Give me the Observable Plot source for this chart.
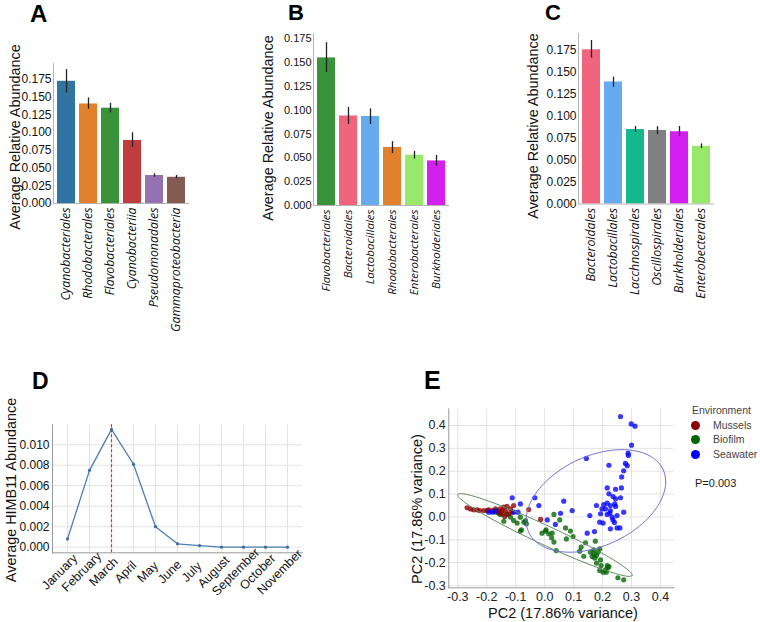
<!DOCTYPE html>
<html><head><meta charset="utf-8">
<script src="https://cdn.jsdelivr.net/npm/d3@7"></script>
<script src="https://cdn.jsdelivr.net/npm/@observablehq/plot@0.6"></script>
<style>
body{margin:0;background:#fff;}
#page{position:relative;width:760px;height:622px;overflow:hidden;background:#fff;font-family:"Liberation Sans",Arial,sans-serif;color:#111;}
.letter{position:absolute;font-weight:bold;line-height:1;color:#000;font-family:"Liberation Sans",Arial,sans-serif;}
.vlab{position:absolute;white-space:nowrap;line-height:1;transform:translate(-50%,-50%) rotate(-90deg);font-size:14.4px;color:#111;}
.hlab{position:absolute;white-space:nowrap;line-height:1;transform:translate(-50%,-50%);font-size:14.5px;color:#111;}
.leg{position:absolute;white-space:nowrap;line-height:1;font-size:10.5px;color:#444;}
.sw{position:absolute;width:9px;height:9px;border-radius:50%;}
</style></head><body><div id="page"></div>
<script>
// ---------- DATA ----------
const yTicksBar = [0, 0.025, 0.05, 0.075, 0.1, 0.125, 0.15, 0.175];

const catsA = ["Cyanobacteriales","Rhodobacterales","Flavobacteriales","Cyanobacteriia","Pseudomonadales","Gammaproteobacteria"];
const meanA = [0.1725, 0.1405, 0.1345, 0.0890, 0.0395, 0.0370];
const loA   = [0.156, 0.133, 0.128, 0.0795, 0.0370, 0.0350];
const hiA   = [0.189, 0.149, 0.1415, 0.0998, 0.0420, 0.0395];
const colA  = ["#3274a1","#e1812c","#3a923a","#c03d3e","#9372b2","#845b53"];

const catsB = ["Flavobacteriales","Bacteroidales","Lactobacillales","Rhodobacterales","Enterobacterales","Burkholderiales"];
const meanB = [0.155, 0.094, 0.0935, 0.061, 0.0528, 0.0468];
const loB   = [0.1395, 0.085, 0.085, 0.0545, 0.0487, 0.0412];
const hiB   = [0.171, 0.103, 0.1015, 0.0671, 0.0568, 0.0525];
const colB  = ["#3a923a","#f0647e","#66aaf0","#e1812c","#98e86c","#d320f0"];

const catsC = ["Bacteroidales","Lactobacillales","Lacchnospirales","Oscillospirales","Burkholderiales","Enterobecterales"];
const meanC = [0.175, 0.1385, 0.0845, 0.0835, 0.082, 0.0655];
const loC   = [0.1655, 0.1325, 0.0812, 0.0788, 0.0765, 0.0628];
const hiC   = [0.1856, 0.144, 0.088, 0.0878, 0.088, 0.0682];
const colC  = ["#f0647e","#66aaf0","#14b88c","#808080","#d320f0","#98e86c"];

const months = ["January","February","March","April","May","June","July","August","September","October","November"];
const himb   = [0.0008, 0.0075, 0.0115, 0.0081, 0.0020, 0.00033, 0.00016, 0, 0, 0, 0];
const yTicksD = [0, 0.002, 0.004, 0.006, 0.008, 0.010];
const peakMonth = ["March"];

const ticksE = [-0.3, -0.2, -0.1, 0, 0.1, 0.2, 0.3, 0.4];
const envNames = ["Mussels","Biofilm","Seawater"];
const envColors = ["#8b0000","#006400","#0000ff"];
const mussels = [[-0.268,0.040],[-0.256,0.035],[-0.245,0.031],[-0.233,0.031],[-0.224,0.028],[-0.210,0.028],[-0.199,0.028],[-0.193,0.031],[-0.181,0.028],[-0.164,0.028],[-0.158,0.021],[-0.153,0.035],[-0.147,0.014],[-0.141,0.043],[-0.138,0.002],[-0.135,0.025],[-0.130,0.046],[-0.124,0.014],[-0.118,0.035],[-0.112,0.021],[-0.107,0.050],[-0.055,0.032],[-0.014,-0.011],[-0.147,0.028],[-0.170,0.035]];
const biofilm = [[-0.170,0.021],[-0.158,0.016],[-0.153,0.011],[-0.141,-0.019],[-0.130,0.011],[-0.118,-0.001],[-0.107,-0.016],[-0.095,-0.027],[-0.084,-0.001],[-0.072,-0.023],[-0.066,-0.016],[-0.063,-0.030],[-0.080,-0.056],[-0.084,-0.062],[0.032,0.011],[0.052,-0.013],[-0.009,-0.071],[0.003,-0.062],[0.014,-0.074],[0.024,-0.091],[0.032,-0.110],[0.040,-0.147],[0.072,-0.048],[0.089,-0.062],[0.098,-0.086],[0.075,-0.096],[0.141,-0.113],[0.175,-0.106],[0.126,-0.132],[0.121,-0.150],[0.135,-0.172],[0.158,-0.154],[0.170,-0.144],[0.170,-0.161],[0.179,-0.169],[0.164,-0.173],[0.190,-0.140],[0.184,-0.154],[0.173,-0.180],[0.193,-0.188],[0.179,-0.202],[0.195,-0.213],[0.216,-0.213],[0.222,-0.217],[0.190,-0.234],[0.202,-0.242],[0.213,-0.242],[0.210,-0.231],[0.218,-0.223],[0.253,-0.266],[0.273,-0.275],[0.005,-0.056],[0.026,-0.071]];
const seawater = [[0.262,0.439],[0.299,0.407],[0.312,0.397],[0.300,0.314],[0.288,0.279],[0.289,0.269],[0.279,0.234],[0.285,0.224],[0.273,0.202],[0.266,0.175],[0.144,0.256],[0.222,0.226],[0.216,0.127],[0.245,0.121],[0.265,0.127],[0.222,0.101],[0.236,0.089],[0.262,0.084],[0.245,0.079],[0.179,0.050],[0.204,0.054],[0.216,0.060],[0.227,0.050],[0.242,0.057],[0.198,0.035],[0.210,0.035],[0.227,0.028],[0.245,0.046],[0.273,0.021],[0.193,0.014],[0.216,0.011],[0.225,0.016],[0.233,-0.001],[0.250,0.006],[0.156,0.006],[0.190,-0.023],[0.202,-0.027],[0.236,-0.013],[0.241,-0.024],[0.227,-0.052],[0.250,-0.048],[0.260,-0.048],[0.147,-0.071],[0.172,-0.064],[0.066,0.069],[0.095,0.028],[0.055,0.016],[-0.034,0.084],[-0.020,0.050],[-0.112,0.084],[-0.084,0.057],[-0.092,0.021],[-0.107,0.021],[0.009,-0.013],[0.037,-0.033],[-0.181,0.021],[-0.193,0.021],[-0.170,0.025]];
// confidence ellipses: centre and two conjugate semi-diameters (data units)
const ellipseEnv = ["Biofilm","Seawater"];
const ellipseCx = [0.001, 0.177];
const ellipseCy = [-0.079, 0.070];
const ellipseA  = [[0.301,-0.177],[0.241,0.084]];
const ellipseB  = [[0.014,0.038],[0.0,0.208]];
const ellipseColors = ["#5f8c5f","#7272d2"];

// ---------- LAYOUT ----------
const page = document.getElementById("page");
function place(el, left, top){ el.style.position="absolute"; el.style.left=left+"px"; el.style.top=top+"px"; page.appendChild(el); }
function html(cls, text, left, top, extra){ const d=document.createElement("div"); d.className=cls; d.textContent=text; d.style.left=left+"px"; d.style.top=top+"px"; if(extra) Object.assign(d.style, extra); page.appendChild(d); return d; }

function barPanel(cfg){
  const rows = cfg.cats.map((c,i)=>({cat:c, mean:cfg.mean[i], lo:cfg.lo[i], hi:cfg.hi[i], color:cfg.col[i]}));
  const innerW = 135, marginRight = 15, marginBottom = 140;
  const marginTop = cfg.frameTop - cfg.top;
  const innerH = cfg.zeroY - cfg.frameTop;
  const p = Plot.plot({
    width: cfg.marginLeft + innerW + marginRight,
    height: marginTop + innerH + marginBottom,
    marginLeft: cfg.marginLeft, marginRight, marginTop, marginBottom,
    style: {fontFamily:"Liberation Sans, Arial, sans-serif", fontSize: cfg.fontSize+"px", color:"#111", background:"transparent", overflow:"visible"},
    x: {domain: cfg.cats, paddingInner: 0.2, paddingOuter: 0.1},
    y: {domain: [0, cfg.yTop]},
    color: {type:"identity"},
    marks: [
      Plot.barY(rows, {x:"cat", y:"mean", fill:"color"}),
      Plot.ruleX(rows, {x:"cat", y1:"lo", y2:"hi", stroke:"#222", strokeWidth:1.3}),
      Plot.axisY(yTicksBar, {tickFormat:d3.format(".3f"), tickSize:0, tickPadding:2, label:null, fontSize:cfg.fontSize}),
      Plot.axisX({tickRotate:-90, tickSize:0, tickPadding:4, label:null, fontStyle:"italic", fontFamily:"Open Sans", fontSize:cfg.xFont}),
      Plot.frame({anchor:"left", stroke:"#b4b4b4"}),
      Plot.frame({anchor:"bottom", stroke:"#b4b4b4"})
    ]
  });
  place(p, cfg.left, cfg.top);
}

barPanel({cats:catsA, mean:meanA, lo:loA, hi:hiA, col:colA, left:0, top:0, marginLeft:53, frameTop:63, zeroY:203, yTop:0.1976, fontSize:12, xFont:12.3});
barPanel({cats:catsB, mean:meanB, lo:loB, hi:hiB, col:colB, left:250, top:0, marginLeft:63, frameTop:33, zeroY:205, yTop:0.1806, fontSize:11, xFont:11.5});
barPanel({cats:catsC, mean:meanC, lo:loC, hi:hiC, col:colC, left:500, top:0, marginLeft:78, frameTop:33, zeroY:203.5, yTop:0.1935, fontSize:12, xFont:12.3});

// Panel D
const rowsD = months.map((m,i)=>({month:m, value:himb[i]}));
const pD = Plot.plot({
  width: 330, height: 94.3+128+70,
  marginLeft: 52, marginRight: 28, marginTop: 94.3, marginBottom: 70,
  style: {fontFamily:"Liberation Sans, Arial, sans-serif", fontSize:"12px", color:"#111", background:"transparent", overflow:"visible"},
  x: {type:"point", domain: months, padding: 0.5, axis: null},
  y: {domain: [-0.00055, 0.01195]},
  marks: [
    Plot.gridX(months, {stroke:"#e3e3e3", strokeOpacity:1}),
    Plot.gridY(yTicksD, {stroke:"#e3e3e3", strokeOpacity:1}),
    Plot.frame({anchor:"left", stroke:"#999"}),
    Plot.frame({anchor:"bottom", stroke:"#999"}),
    Plot.line(rowsD, {x:"month", y:"value", stroke:"#4a7fb0", strokeWidth:1.3}),
    Plot.dot(rowsD, {x:"month", y:"value", r:1.6, fill:"#3b6d9e"}),
    Plot.ruleX(peakMonth, {x: d => d, stroke:"#e8282b", strokeOpacity:1, strokeDasharray:"3,2", strokeWidth:1.2}),
    Plot.axisY(yTicksD, {tickFormat:d3.format(".3f"), tickSize:0, tickPadding:3, label:null, fontSize:12}),
    Plot.text(months, {x: d => d, frameAnchor:"bottom", rotate:-45, textAnchor:"middle", dy:22, dx:-5, fontSize:12.5, fill:"#111"})
  ]
});
place(pD, 0, 330);

// Panel E
const ptsE = [];
[mussels, biofilm, seawater].forEach((arr,k)=>arr.forEach(([x,y])=>ptsE.push({env:envNames[k], x, y})));
const orderE = ["Biofilm","Mussels","Seawater"];
const ellPts = ellipseEnv.flatMap((env,i)=>d3.range(0, 361, 3).map(deg=>{
  const t = deg*Math.PI/180;
  return {env, color:ellipseColors[i],
    x: ellipseCx[i] + Math.cos(t)*ellipseA[i][0] + Math.sin(t)*ellipseB[i][0],
    y: ellipseCy[i] + Math.cos(t)*ellipseA[i][1] + Math.sin(t)*ellipseB[i][1]};
}));
const fmtE = d => d.toFixed(1);
const pE = Plot.plot({
  width: 300, height: 78.3+179+34,
  marginLeft: 68.3, marginRight: 6.7, marginTop: 78.3, marginBottom: 34,
  style: {fontFamily:"Liberation Sans, Arial, sans-serif", fontSize:"12.5px", color:"#222", background:"transparent", overflow:"visible"},
  x: {domain: [-0.331, 0.446]},
  y: {domain: [-0.310, 0.473]},
  color: {type:"identity"},
  marks: [
    Plot.gridX(ticksE, {stroke:"#e3e3e3", strokeOpacity:1}),
    Plot.gridY(ticksE, {stroke:"#e3e3e3", strokeOpacity:1}),
    Plot.frame({anchor:"left", stroke:"#999"}),
    Plot.frame({anchor:"bottom", stroke:"#999"}),
    ...orderE.map(env => Plot.dot(ptsE.filter(d=>d.env===env), {x:"x", y:"y", r:2.6, fill: envColors[envNames.indexOf(env)], fillOpacity:0.78, stroke:"none"})),
    Plot.line(ellPts, {x:"x", y:"y", z:"env", stroke:"color", strokeWidth:1}),
    Plot.axisX(ticksE, {tickFormat:fmtE, tickSize:0, tickPadding:4, label:null, fontSize:12.5}),
    Plot.axisY(ticksE, {tickFormat:fmtE, tickSize:0, tickPadding:3, label:null, fontSize:12.5})
  ]
});
place(pE, 380, 330);

// ---------- TEXT ----------
html("letter","A",30,1.5,{fontSize:"24px"});
html("letter","B",288,2,{fontSize:"22px"});
html("letter","C",545,2,{fontSize:"22px"});
html("letter","D",32,370,{fontSize:"23px"});
html("letter","E",424,368,{fontSize:"25px"});

html("vlab","Average Relative Abundance",15,137);
html("vlab","Average Relative Abundance",268,128);
html("vlab","Average Relative Abundance",533,126);
html("vlab","Average HIMB11 Abundance",11,490);
html("vlab","PC2 (17.86% variance)",417,509,{fontSize:"14.5px"});
html("hlab","PC2 (17.86% variance)",563,613);

// Legend E
html("leg","Environment",692,405,{fontSize:"10.5px"});
const legY = [425, 439.5, 454];
envNames.forEach((n,i)=>{
  const s=document.createElement("div"); s.className="sw"; s.style.left=(695-4.5)+"px"; s.style.top=(legY[i]-4.5)+"px"; s.style.background=envColors[i]; page.appendChild(s);
  html("leg", n, 713, legY[i]-5.5, {fontSize:"10.5px"});
});
html("leg","P=0.003",695,478,{fontSize:"11px", color:"#222"});
</script>
</body></html>
